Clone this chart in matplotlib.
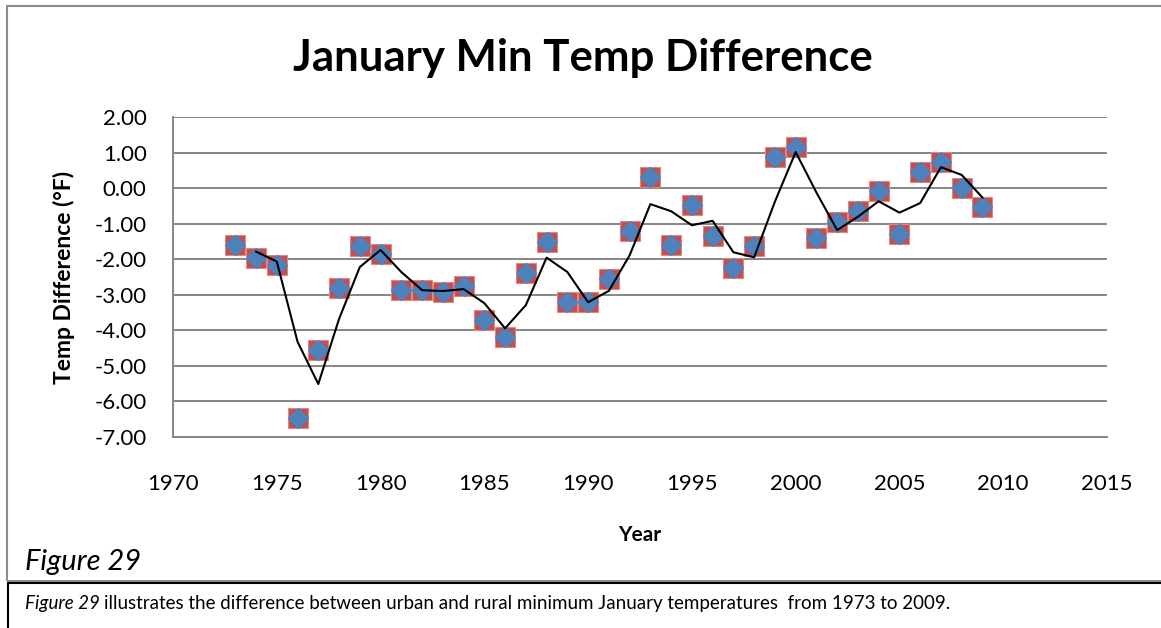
import matplotlib
matplotlib.use("Agg")
import matplotlib.pyplot as plt
import pandas as pd
from matplotlib.patches import Rectangle
from matplotlib.ticker import FuncFormatter

# Годы и разница температур (город - пригород), °F
years = list(range(1973, 2010))
temp_diff = [
    -1.61, -1.96, -2.17, -6.47, -4.55, -2.81, -1.63, -1.85, -2.87, -2.87,
    -2.92, -2.76, -3.71, -4.18, -2.40, -1.51, -3.21, -3.21, -2.57, -1.21,
    0.31, -1.61, -0.48, -1.36, -2.25, -1.64, 0.88, 1.15, -1.40, -0.96,
    -0.65, -0.09, -1.29, 0.45, 0.73, 0.01, -0.54,
]

x_ticks = list(range(1970, 2016, 5))
y_ticks = list(range(-7, 3))

TITLE = "January Min Temp Difference"
CAPTION = ("illustrates the difference between urban and rural minimum "
           "January temperatures  from 1973 to 2009.")

plt.rcParams["font.family"] = ["Lato", "DejaVu Sans"]

GRID = "#868686"
RED = "#C0504D"
BLUE = "#4F81BD"

W, H = 1161, 628
fig = plt.figure(figsize=(W / 100, H / 100), dpi=100)
ax = fig.add_axes([173 / W, 1 - 437 / H, (1107 - 173) / W, (437 - 117) / H])

# Скользящее среднее по 2 точкам (линия тренда как в Excel)
series = pd.Series(temp_diff, index=years)
moving_avg = series.rolling(2).mean()

ax.plot(years, temp_diff, linestyle="none", marker="s", markersize=14,
        markerfacecolor=RED, markeredgecolor="#D98A88", markeredgewidth=0.8,
        zorder=3)
ax.plot(years, temp_diff, linestyle="none", marker="D", markersize=10,
        markerfacecolor=BLUE, markeredgecolor=BLUE, zorder=4)
ax.plot(moving_avg.index, moving_avg.values, color="black", linewidth=1.5,
        zorder=5)

ax.set_xlim(1970, 2015)
ax.set_ylim(-7, 2)
ax.set_xticks(x_ticks)
ax.set_yticks(y_ticks)
ax.yaxis.set_major_formatter(FuncFormatter(lambda v, p: f"{v:.2f}"))
ax.tick_params(axis="both", length=0, labelsize=16)
ax.tick_params(axis="y", pad=19)
ax.tick_params(axis="x", pad=27)

ax.grid(True, axis="y", color=GRID, linewidth=1.4)
ax.set_axisbelow(True)
for side in ("top", "right"):
    ax.spines[side].set_visible(False)
for side in ("left", "bottom"):
    ax.spines[side].set_color(GRID)
    ax.spines[side].set_linewidth(1.4)

ax.set_xlabel("Year", fontsize=15, fontweight="bold", labelpad=22)
ax.set_ylabel("Temp Difference (°F)", fontsize=16.5, fontweight="bold",
              labelpad=14)
fig.text(583 / W, 1 - 58 / H, TITLE, fontsize=31.5, fontweight="bold",
         ha="center", va="center")

# Рамка диаграммы и подпись "Figure 29"
fig.patches.append(Rectangle((6.5 / W, 1 - 581 / H), 1.2, (581 - 5.5) / H,
                             transform=fig.transFigure, fill=False,
                             edgecolor="#8C8C8C", linewidth=1.5))
fig.text(25 / W, 1 - 562 / H, "Figure 29", fontsize=21, style="italic",
         ha="left", va="center")

# Блок с пояснением
fig.patches.append(Rectangle((7.5 / W, -0.2), 1.2, 0.2 + 1 - 583 / H,
                             transform=fig.transFigure, fill=False,
                             edgecolor="black", linewidth=1.5))
t = fig.text(25 / W, 1 - 604 / H, "Figure 29", fontsize=13.5, style="italic",
             ha="left", va="center")
fig.canvas.draw()
bb = t.get_window_extent()
fig.text(bb.x1 / W + 4 / W, 1 - 604 / H, CAPTION, fontsize=13.5,
         ha="left", va="center")

fig.savefig("out.png", dpi=100)
